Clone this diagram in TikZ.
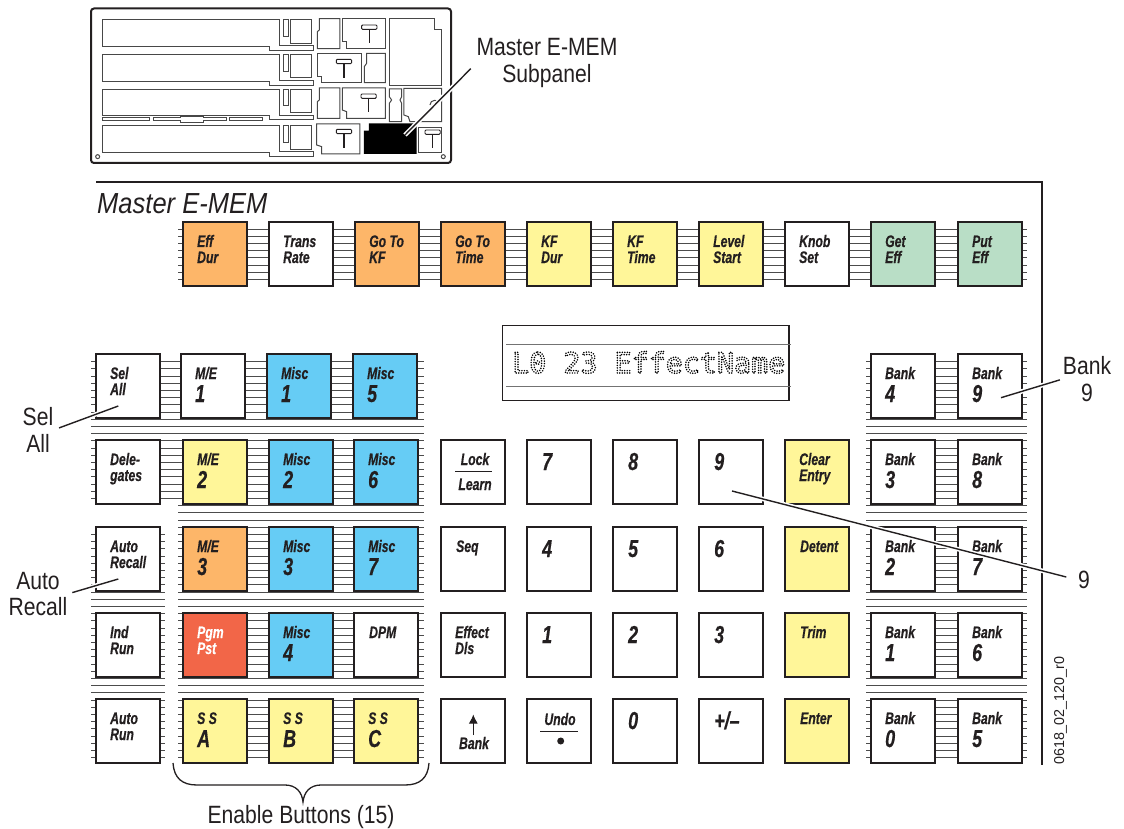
\documentclass[tikz,border=0pt]{standalone}
\usepackage{fontspec}
\usetikzlibrary{arrows.meta}
\setmainfont{Liberation Sans}
\newfontfamily\keyfont[FakeStretch=0.73, FakeBold=0.5]{Liberation Sans}
\newfontfamily\calloutfont[FakeStretch=0.845]{Liberation Sans}
\newfontfamily\titlefont[FakeStretch=0.88]{Liberation Sans}
\newfontfamily\lcdfont{DejaVu Sans Mono}
\definecolor{keyorange}{HTML}{FDB669}
\definecolor{keyyellow}{HTML}{FFF699}
\definecolor{keyblue}{HTML}{66CCF5}
\definecolor{keygreen}{HTML}{B9DEC6}
\definecolor{keyred}{HTML}{F26648}
\definecolor{inkdark}{HTML}{231F20}
\tikzset{
    keybtn/.style={draw=inkdark, line width=1.5pt, minimum size=64pt, inner sep=0pt, outer sep=0pt, anchor=north west},
    smalltext/.style={anchor=base west, inner sep=0pt, text=inkdark, font=\keyfont\bfseries\itshape\fontsize{16.7}{16.7}\selectfont},
    bigtext/.style={anchor=base west, inner sep=0pt, text=inkdark, font=\keyfont\bfseries\itshape\fontsize{24.5}{24.5}\selectfont},
    callout/.style={align=center, inner sep=0pt, text=inkdark, font=\calloutfont\fontsize{25}{26.7}\selectfont},
    leader/.style={inkdark, line width=1.4pt, preaction={draw, white, line width=4.5pt}},
    stripe/.style={black!70, line width=0.9pt},
    subpanel/.style={black!72, line width=1pt},
    knob/.style={inkdark, line width=0.9pt}
}
\begin{document}
\begin{tikzpicture}[x=1pt, y=-1pt]
    \useasboundingbox (0,0) rectangle (1124,829);

    % Console outline
    \draw[inkdark, line width=2pt, rounded corners=3pt] (91,8.5) rectangle (451,163);
    \begin{scope}[x=0.3333pt, y=-0.3333pt, shift={(240,0)}]
        \foreach \dy in {0,104,208,318} {
            \draw[subpanel] (68,60+\dy) -- (600,60+\dy) -- (600,138+\dy) -- (700,138+\dy) -- (700,152+\dy) -- (568,152+\dy) -- (568,140+\dy) -- (68,140+\dy) -- cycle;
            \draw[subpanel] (610,60+\dy) rectangle (626,110+\dy);
            \draw[subpanel] (632,60+\dy) rectangle (696,130+\dy);
        }
        \draw[subpanel] (718,56) -- (780,56) -- (780,146) -- (712,146) -- (712,95) -- (718,90) -- cycle;
        \draw[subpanel] (787,55) -- (916,55) -- (916,146) -- (800,146) -- (800,125) -- (787,125) -- cycle;
        \draw[subpanel] (712,160) -- (846,160) -- (846,248) -- (725,248) -- (725,230) -- (712,230) -- cycle;
        \draw[subpanel] (860,160) -- (916,160) -- (916,248) -- (853,248) -- (853,200) -- (860,190) -- cycle;
        \draw[subpanel] (718,264) -- (780,264) -- (780,355) -- (712,355) -- (712,305) -- (718,300) -- cycle;
        \draw[subpanel] (787,264) -- (916,264) -- (916,355) -- (800,355) -- (800,335) -- (787,330) -- cycle;
        \draw[subpanel] (928,55) -- (1065,55) -- (1065,88) -- (1085,88) -- (1085,258) -- (928,258) -- cycle;
        \draw[subpanel] (928,267) -- (965,267) -- (965,290) -- (960,300) -- (965,310) -- (965,365) -- (928,365) -- (928,310) -- (935,300) -- (928,290) -- cycle;
        \draw[subpanel] (972,265) -- (1085,265) -- (1085,365) -- (990,365) -- (985,350) -- (972,345) -- cycle;
        \draw[subpanel] (1050,315) arc (180:300:14);
        \draw[subpanel] (710,372) -- (840,372) -- (840,462) -- (725,462) -- (725,440) -- (710,435) -- cycle;
        \draw[subpanel] (1015,382) rectangle (1085,457);
        \fill[black] (867,370) -- (1010,370) -- (1010,462) -- (852,462) -- (852,392) -- (867,392) -- cycle;
        \draw[subpanel] (68,352) rectangle (210,363);
        \draw[subpanel] (222,352) -- (303,352) -- (303,349) -- (370,349) -- (370,352) -- (440,352) -- (440,363) -- (370,363) -- (370,367) -- (303,367) -- (303,363) -- (222,363) -- cycle;
        \draw[subpanel] (449,352) rectangle (548,363);
        \draw[subpanel] (53,470) circle (6);
        \draw[subpanel] (1090,470) circle (6);
        \foreach \tx/\ty in {868/75,792/178,866/282,792/388,1058/390} {
            \draw[knob, fill=white, rounded corners=1pt] (\tx-23,\ty) rectangle (\tx+23,\ty+13);
            \draw[knob, line width=1.5pt] (\tx,\ty+13) -- (\tx,\ty+55);
        }
    \end{scope}

    % Panel frame and title
    \draw[inkdark, line width=1.5pt] (96,182) -- (1042,182) -- (1042,765);
    \node[anchor=base west, inner sep=0pt, text=inkdark, font=\titlefont\itshape\fontsize{29}{29}\selectfont] (paneltitle) at (97,214) {Master E-MEM};
    \node[rotate=90, anchor=base west, inner sep=0pt, text=inkdark, font=\fontsize{14.3}{14.3}\selectfont] (drawingno) at (1064,765) {0618\_02\_120\_r0};

    % Button bed lines
    \foreach \k in {0,...,7}
        \draw[stripe] (178,229+7.2*\k) -- (1027,229+7.2*\k);
    \foreach \k in {0,...,19}
        \draw[stripe] (91,361.7+7.2*\k) -- (424,361.7+7.2*\k);
    \foreach \k in {20,...,55}
        \draw[stripe] (178,361.7+7.2*\k) -- (424,361.7+7.2*\k);
    \foreach \k in {24,...,55}
        \draw[stripe] (91,361.7+7.2*\k) -- (165,361.7+7.2*\k);
    \foreach \k in {0,...,55}
        \draw[stripe] (866,361.7+7.2*\k) -- (1027,361.7+7.2*\k);

    % Two small lines
    \foreach \nm/\xx/\yy/\col/\ta/\tb in {
        effdur/183/222/keyorange/Eff/Dur, transrate/269/222/white/Trans/Rate,
        gotokf/355/222/keyorange/Go To/KF, gototime/441/222/keyorange/Go To/Time,
        kfdur/527/222/keyyellow/KF/Dur, kftime/613/222/keyyellow/KF/Time,
        levelstart/699/222/keyyellow/Level/Start, knobset/785/222/white/Knob/Set,
        geteff/871/222/keygreen/Get/Eff, puteff/958/222/keygreen/Put/Eff,
        selall/96/354/white/Sel/All, delegates/96/440/white/Dele-/gates,
        autorecall/96/527/white/Auto/Recall, indrun/96/613/white/Ind/Run,
        autorun/96/699/white/Auto/Run, clearentry/785/440/keyyellow/Clear/Entry,
        effectdls/441/613/white/Effect/Dls} {
        \node[keybtn, fill=\col] (\nm) at (\xx,\yy) {};
        \node[smalltext] (\nm-a) at ([shift={(14,25)}]\nm.north west) {\ta};
        \node[smalltext] (\nm-b) at ([shift={(14,41)}]\nm.north west) {\tb};
    }
    \node[keybtn, fill=keyred] (pgmpst) at (183,613) {};
    \node[smalltext, text=white] (pgmpst-a) at ([shift={(14,25)}]pgmpst.north west) {Pgm};
    \node[smalltext, text=white] (pgmpst-b) at ([shift={(14,41)}]pgmpst.north west) {Pst};

    % Small line over a big one
    \foreach \nm/\xx/\yy/\col/\ta/\tb in {
        meone/181/354/white/{M/E}/1, miscone/267/354/keyblue/Misc/1, miscfive/353/354/keyblue/Misc/5,
        metwo/183/440/keyyellow/{M/E}/2, misctwo/269/440/keyblue/Misc/2, miscsix/354/440/keyblue/Misc/6,
        methree/183/527/keyorange/{M/E}/3, miscthree/269/527/keyblue/Misc/3, miscseven/354/527/keyblue/Misc/7,
        miscfour/269/613/keyblue/Misc/4,
        ssa/183/699/keyyellow/S S/A, ssb/269/699/keyyellow/S S/B, ssc/354/699/keyyellow/S S/C,
        bankfour/871/354/white/Bank/4, banknine/958/354/white/Bank/9,
        bankthree/871/440/white/Bank/3, bankeight/958/440/white/Bank/8,
        banktwo/871/527/white/Bank/2, bankseven/958/527/white/Bank/7,
        bankone/871/613/white/Bank/1, banksix/958/613/white/Bank/6,
        bankzero/871/699/white/Bank/0, bankfive/958/699/white/Bank/5} {
        \node[keybtn, fill=\col] (\nm) at (\xx,\yy) {};
        \node[smalltext] (\nm-a) at ([shift={(14,25)}]\nm.north west) {\ta};
        \node[bigtext] (\nm-b) at ([shift={(14,48)}]\nm.north west) {\tb};
    }

    % One small line
    \foreach \nm/\xx/\yy/\col/\ta in {
        dpm/354/613/white/DPM, seq/441/527/white/Seq, detent/785/527/keyyellow/Detent,
        trim/785/613/keyyellow/Trim, enter/785/699/keyyellow/Enter} {
        \node[keybtn, fill=\col] (\nm) at (\xx,\yy) {};
        \node[smalltext] (\nm-a) at ([shift={(15,25)}]\nm.north west) {\ta};
    }

    % Keypad
    \foreach \nm/\xx/\yy/\ta in {
        padseven/527/440/7, padeight/613/440/8, padnine/699/440/9,
        padfour/527/527/4, padfive/613/527/5, padsix/699/527/6,
        padone/527/613/1, padtwo/613/613/2, padthree/699/613/3,
        padzero/613/699/0, padsign/699/699/{+/–}} {
        \node[keybtn, fill=white] (\nm) at (\xx,\yy) {};
        \node[bigtext] (\nm-a) at ([shift={(15,30)}]\nm.north west) {\ta};
    }

    % Keys with a rule or an arrow
    \node[keybtn, fill=white] (locklearn) at (441,440) {};
    \node[smalltext, anchor=base] (locklearn-a) at (475,465) {Lock};
    \node[smalltext, anchor=base] (locklearn-b) at (475,490) {Learn};
    \draw[inkdark, line width=0.8pt] (455,471.7) -- (492,471.7);
    \node[keybtn, fill=white] (undo) at (527,699) {};
    \node[smalltext, anchor=base] (undo-a) at (560,725) {Undo};
    \draw[inkdark, line width=0.8pt] (540,731.7) -- (578,731.7);
    \fill[inkdark] (560.7,741) circle (3.5);
    \node[keybtn, fill=white] (bankup) at (441,699) {};
    \node[smalltext, anchor=base] (bankup-a) at (474,749) {Bank};
    \draw[inkdark, line width=1pt, -{Latex[length=9pt,width=9pt]}] (473.3,735) -- (473.3,714.5);

    % Display
    \node[draw=inkdark, line width=1.5pt, fill=white, minimum width=286.5pt, minimum height=75pt, inner sep=0pt, outer sep=0pt, anchor=north west] (display) at (502.7,325.7) {};
    \draw[black!55, line width=1pt] (506,344) -- (791,344);
    \draw[black!55, line width=1pt] (506,386) -- (791,386);
    \node[anchor=base west, inner sep=0pt, text=black, font=\lcdfont\fontsize{28.35}{28.35}\selectfont] (displaytext) at (512,373) {\special{pdf:code 1 Tr 1.7 w 1 J [0 2.5] 0 d}L0 23 EffectName\special{pdf:code 0 Tr 0 J [] 0 d}};

    % Enable brace
    \draw[inkdark, line width=1.3pt] (173,763) .. controls (174,778) and (182,785) .. (197,785) -- (285,785) .. controls (296,785) and (302,792) .. (303,802) .. controls (304,792) and (310,785) .. (321,785) -- (405,785) .. controls (420,785) and (428,778) .. (429,763);
    \node[callout, anchor=base] (enablelabel) at (301,823) {Enable Buttons (15)};

    % Callouts
    \node[callout] (masterlabel) at (547,63) {Master E-MEM\\Subpanel};
    \node[callout] (sellabel) at (38,430) {Sel\\All};
    \node[callout] (autolabel) at (38,594) {Auto\\Recall};
    \node[callout] (banklabel) at (1087,379) {Bank\\9};
    \node[callout] (ninelabel) at (1084,580) {9};
    \coordinate (masterend) at (405,135);
    \coordinate (selend) at (118.3,406);
    \coordinate (autoend) at (118.3,579);
    \coordinate (bankend) at (1001,397.7);
    \coordinate (nineend) at (732,491);
    \draw[leader, shorten <=8pt] (masterlabel.west) -- (masterend);
    \draw[leader, shorten <=6pt] (sellabel.east) -- (selend);
    \draw[leader, shorten <=5pt] (autolabel.east) -- (autoend);
    \draw[leader, shorten <=3pt] (banklabel.west) -- (bankend);
    \draw[leader, shorten <=12pt] (ninelabel.west) -- (nineend);
\end{tikzpicture}
\end{document}
